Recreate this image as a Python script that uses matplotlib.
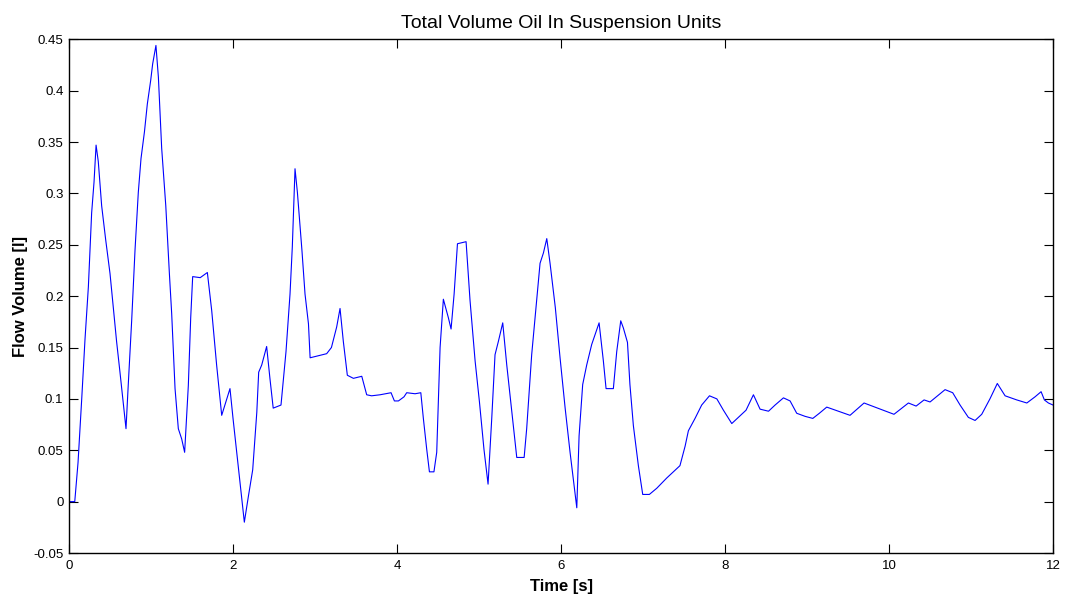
import matplotlib
matplotlib.use('Agg')
import matplotlib.pyplot as plt
import numpy as np

# time [s] and total flow volume [l]
time_s = [0.0, 0.07, 0.11, 0.155, 0.195, 0.236, 0.276, 0.305, 0.33,
          0.357, 0.398, 0.447, 0.5, 0.54, 0.58, 0.62, 0.66, 0.695,
          0.72, 0.764, 0.805, 0.845, 0.878, 0.92, 0.955, 0.996, 1.02, 1.06,
          1.09, 1.13, 1.18, 1.224, 1.252, 1.293, 1.333, 1.374, 1.41,
          1.455, 1.484, 1.508, 1.6, 1.687,
          1.74, 1.8, 1.862, 1.963,
          2.0, 2.045, 2.085, 2.138, 2.187, 2.24, 2.29, 2.313, 2.35, 2.41,
          2.45, 2.49, 2.585,
          2.646, 2.695, 2.723, 2.756, 2.785,
          2.84, 2.878, 2.92, 2.94, 3.142, 3.2, 3.264, 3.305,
          3.345, 3.394, 3.468, 3.57, 3.63, 3.69, 3.793, 3.927, 3.968, 4.017,
          4.085, 4.118, 4.22, 4.29,
          4.321, 4.362, 4.395, 4.45, 4.484, 4.504, 4.525, 4.565, 4.626, 4.659,
          4.696, 4.737, 4.842,
          4.89, 4.952, 5.005, 5.06, 5.11, 5.155, 5.195, 5.236, 5.289,
          5.338, 5.4, 5.46, 5.55, 5.581, 5.642, 5.703, 5.744, 5.785, 5.826,
          5.866, 5.93, 5.988, 6.05, 6.11, 6.192,
          6.22, 6.264, 6.313, 6.374, 6.464,
          6.516, 6.549, 6.638, 6.679, 6.728, 6.76, 6.81,
          6.84, 6.882, 6.943, 6.996, 7.077,
          7.167, 7.289, 7.37, 7.45, 7.513, 7.553, 7.634, 7.715, 7.81, 7.9,
          7.98, 8.082, 8.163, 8.256, 8.346, 8.427, 8.53, 8.61, 8.712, 8.793,
          8.874, 8.976, 9.07, 9.15,
          9.24, 9.524, 9.695, 10.06, 10.236, 10.33, 10.427, 10.5, 10.683,
          10.776, 10.866, 10.967, 11.049, 11.13, 11.23, 11.32, 11.415,
          11.557, 11.68, 11.78, 11.854, 11.894, 11.943, 12.0]
volume_l = [0.0, 0.0, 0.038, 0.10, 0.158, 0.209, 0.281, 0.311, 0.347,
            0.331, 0.288, 0.255, 0.222, 0.189, 0.156, 0.127, 0.097, 0.071,
            0.11, 0.176, 0.245, 0.301, 0.334, 0.36, 0.387, 0.41, 0.426, 0.444,
            0.413, 0.344, 0.288, 0.222, 0.183, 0.11, 0.071, 0.061, 0.048,
            0.113, 0.179, 0.219, 0.218, 0.223,
            0.186, 0.133, 0.084, 0.11,
            0.081, 0.048, 0.018, -0.02, 0.005, 0.031, 0.087, 0.126, 0.133, 0.151,
            0.12, 0.091, 0.094,
            0.146, 0.202, 0.248, 0.324, 0.301,
            0.245, 0.202, 0.173, 0.14, 0.144, 0.15, 0.17, 0.188,
            0.156, 0.123, 0.12, 0.122, 0.104, 0.103, 0.104, 0.106, 0.098, 0.098,
            0.102, 0.106, 0.105, 0.106,
            0.081, 0.051, 0.029, 0.029, 0.048, 0.097, 0.15, 0.197, 0.179, 0.168,
            0.202, 0.251, 0.253,
            0.196, 0.137, 0.097, 0.051, 0.017, 0.081, 0.143, 0.156, 0.174,
            0.133, 0.087, 0.043, 0.043, 0.071, 0.143, 0.196, 0.232, 0.242, 0.256,
            0.232, 0.189, 0.14, 0.091, 0.048, -0.006,
            0.064, 0.114, 0.133, 0.153, 0.174,
            0.137, 0.11, 0.11, 0.146, 0.176, 0.169, 0.155,
            0.114, 0.074, 0.035, 0.007, 0.007,
            0.013, 0.023, 0.029, 0.035, 0.054, 0.069, 0.081, 0.094, 0.103, 0.1,
            0.089, 0.076, 0.082, 0.089, 0.104, 0.09, 0.088, 0.094, 0.101, 0.098,
            0.086, 0.083, 0.081, 0.086,
            0.092, 0.084, 0.096, 0.085, 0.096, 0.093, 0.099, 0.097, 0.109,
            0.106, 0.094, 0.082, 0.079, 0.085, 0.1, 0.115, 0.103,
            0.099, 0.096, 0.102, 0.107, 0.099, 0.096, 0.094]

xticks = [0, 2, 4, 6, 8, 10, 12]
yticks = [-0.05, 0, 0.05, 0.1, 0.15, 0.2, 0.25, 0.3, 0.35, 0.4, 0.45]
ytick_labels = ['-0.05', '0', '0.05', '0.1', '0.15', '0.2', '0.25', '0.3', '0.35', '0.4', '0.45']

plt.rcParams['font.family'] = ['Liberation Sans', 'DejaVu Sans']

fig = plt.figure(figsize=(10.65, 5.97), dpi=100)
ax = fig.add_axes([0.0648, 0.0737, 0.924, 0.8605])

ax.plot(time_s, volume_l, color='#0000ff', linewidth=0.8)

ax.set_xlim(0, 12)
ax.set_ylim(-0.05, 0.45)
ax.set_xticks(xticks)
ax.set_yticks(yticks)
ax.set_yticklabels(ytick_labels)
ax.tick_params(direction='in', length=6.5, width=0.8, top=True, right=True,
               labelsize=9.5)
ax.tick_params(axis='x', pad=5)
ax.tick_params(axis='y', pad=4)
for sp in ax.spines.values():
    sp.set_linewidth(1.0)

ax.set_title('Total Volume Oil In Suspension Units', fontsize=14, pad=8)
ax.set_xlabel('Time [s]', fontsize=12, fontweight='bold', labelpad=5)
ax.set_ylabel('Flow Volume [l]', fontsize=12, fontweight='bold', labelpad=4)

fig.savefig('out.png', dpi=100)
